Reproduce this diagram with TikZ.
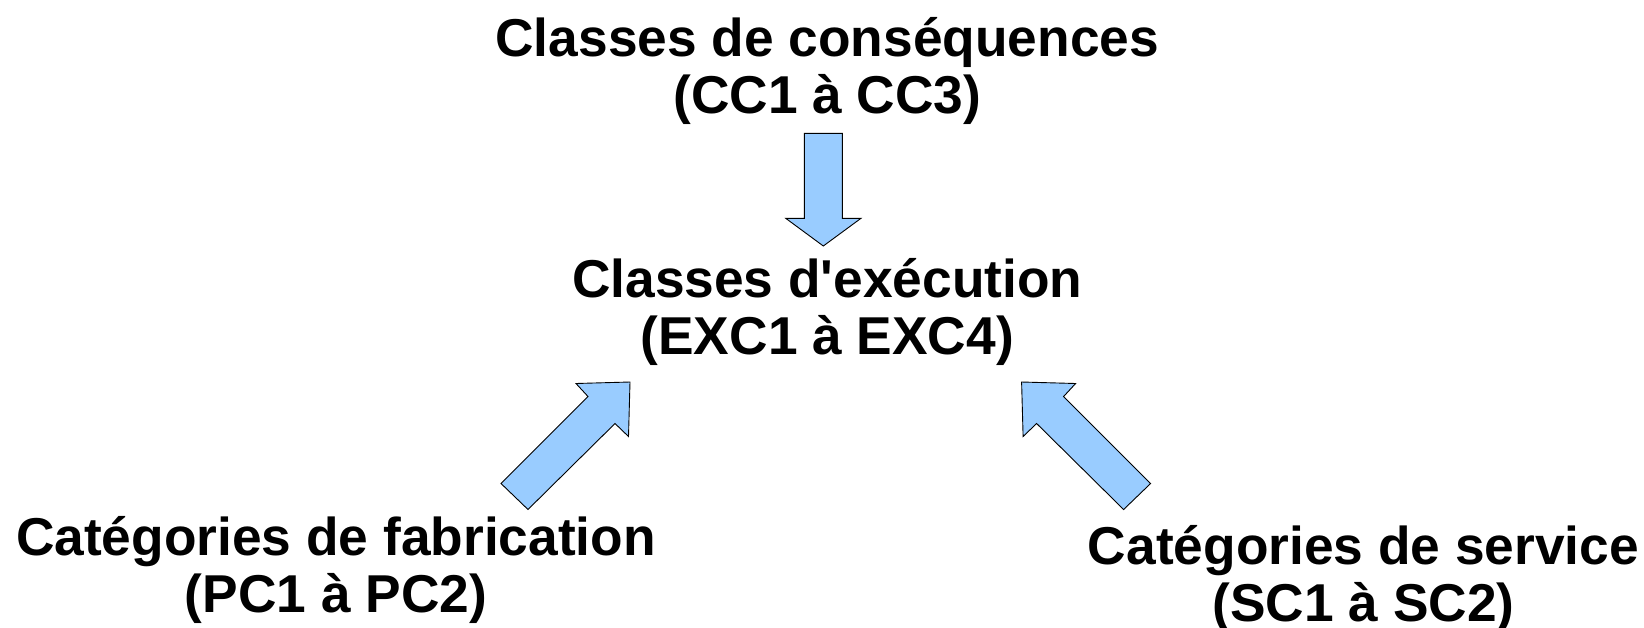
\documentclass[tikz,border=0pt]{standalone}
\usepackage{fontspec}
\setmainfont{Liberation Sans}
\definecolor{arrowblue}{HTML}{99CCFF}
\tikzset{
  lbl/.style={font=\bfseries\fontsize{53.3}{57}\selectfont, inner sep=0pt, anchor=base},
  blockarrow/.style={fill=arrowblue, draw=black, line width=0.9pt, line join=miter}
}
\begin{document}
\begin{tikzpicture}[x=1pt, y=-1pt]
\useasboundingbox (0,0) rectangle (1644,627);
% labels
\node[lbl] (cc)  at (827.3,56) {\begin{tabular}[t]{@{}c@{}}Classes de conséquences\\(CC1 à CC3)\end{tabular}};
\node[lbl] (exc) at (827.3,297)  {\begin{tabular}[t]{@{}c@{}}Classes d\textquotesingle exécution\\(EXC1 à EXC4)\end{tabular}};
\node[lbl] (pc)  at (336,555)    {\begin{tabular}[t]{@{}c@{}}Catégories de fabrication\\(PC1 à PC2)\end{tabular}};
\node[lbl] (sc)  at (1363.5,564) {\begin{tabular}[t]{@{}c@{}}Catégories de service\\(SC1 à SC2)\end{tabular}};
% block arrows
\draw[blockarrow] (804.3,133.3) -- (842.3,133.3) -- (842.3,218.3) -- (861,218.3)
  -- (823.3,246) -- (785.7,218.3) -- (804.3,218.3) -- cycle;
\draw[blockarrow] (630,382) -- (628.5,436.5) -- (615,423.5) -- (528,509.5)
  -- (501,483.5) -- (588,396.5) -- (576,383.5) -- cycle;
\draw[blockarrow] (1021.6,382) -- (1075.6,383.5) -- (1063.6,396.5) -- (1150.6,483.5)
  -- (1123.6,509.5) -- (1036.6,423.5) -- (1023.1,436.5) -- cycle;
\end{tikzpicture}
\end{document}
